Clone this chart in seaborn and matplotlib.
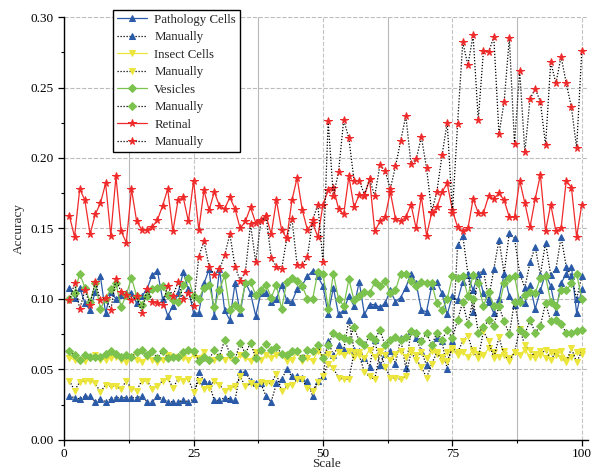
import matplotlib
matplotlib.use("Agg")
import seaborn as sns
import matplotlib.pyplot as plt
from matplotlib.ticker import MultipleLocator

scale = list(range(1, 101))

pathology = [
    0.108, 0.101, 0.108, 0.097, 0.092, 0.105, 0.116, 0.090, 0.105, 0.100,
    0.103, 0.104, 0.104, 0.097, 0.102, 0.107, 0.117, 0.120, 0.100, 0.088,
    0.095, 0.104, 0.119, 0.107, 0.090,
    0.090, 0.111, 0.121, 0.088, 0.121, 0.092, 0.085, 0.111, 0.090, 0.112,
    0.104, 0.088, 0.104, 0.104, 0.098, 0.100, 0.110, 0.099, 0.098, 0.107,
    0.110, 0.116, 0.120, 0.116,
    0.109, 0.089, 0.108, 0.089, 0.092, 0.102, 0.095, 0.112, 0.089, 0.096,
    0.096, 0.094, 0.097, 0.106, 0.098, 0.101, 0.108, 0.118, 0.111, 0.092,
    0.091, 0.109, 0.112, 0.104,
    0.089, 0.102, 0.099, 0.112, 0.117, 0.106, 0.118, 0.104, 0.098, 0.090,
    0.100, 0.118, 0.102, 0.096, 0.100, 0.097, 0.110, 0.093, 0.106, 0.118,
    0.109, 0.091, 0.111, 0.118, 0.123, 0.090, 0.107,
]
pathology_manual = [
    0.031, 0.030, 0.029, 0.031, 0.031, 0.027, 0.029, 0.027, 0.029, 0.030,
    0.030, 0.030, 0.030, 0.030, 0.031, 0.027, 0.027, 0.031, 0.029, 0.027,
    0.027, 0.027, 0.028, 0.027, 0.029,
    0.048, 0.042, 0.040, 0.028, 0.028, 0.030, 0.029, 0.028, 0.048, 0.048,
    0.042, 0.040, 0.040, 0.031, 0.027, 0.040, 0.043, 0.050, 0.045, 0.045,
    0.044, 0.042, 0.031, 0.042,
    0.045, 0.070, 0.060, 0.067, 0.064, 0.085, 0.064, 0.063, 0.058, 0.052,
    0.071, 0.053, 0.061, 0.063, 0.054, 0.072, 0.051, 0.077, 0.072, 0.063,
    0.053, 0.066, 0.072, 0.070, 0.050, 0.070,
    0.138, 0.145, 0.118, 0.091, 0.118, 0.120, 0.100, 0.121, 0.142, 0.118,
    0.147, 0.143, 0.118, 0.108, 0.126, 0.137, 0.117, 0.140, 0.117, 0.121,
    0.144, 0.123, 0.116, 0.100, 0.116,
]
insect = [
    0.058, 0.057, 0.057, 0.056, 0.058, 0.060, 0.057, 0.057, 0.058, 0.059,
    0.057, 0.055, 0.059, 0.057, 0.055, 0.059, 0.057, 0.055, 0.057, 0.060,
    0.059, 0.059, 0.058, 0.057, 0.060,
    0.058, 0.062, 0.056, 0.057, 0.059, 0.057, 0.059, 0.057, 0.060, 0.058,
    0.056, 0.062, 0.057, 0.060, 0.058, 0.060, 0.060, 0.056, 0.057, 0.062,
    0.056, 0.058, 0.056, 0.063, 0.059,
    0.061, 0.058, 0.062, 0.060, 0.063, 0.059, 0.062, 0.058, 0.064, 0.059,
    0.063, 0.060, 0.057, 0.061, 0.063, 0.059, 0.064, 0.060, 0.062, 0.058,
    0.063, 0.061, 0.059, 0.062, 0.064,
    0.060, 0.062, 0.059, 0.064, 0.061, 0.060, 0.065, 0.062, 0.059, 0.063,
    0.058, 0.062, 0.060, 0.064, 0.059, 0.061, 0.063, 0.058, 0.062, 0.060,
    0.063, 0.057, 0.059, 0.062, 0.061,
]
insect_manual = [
    0.042, 0.035, 0.041, 0.042, 0.042, 0.040, 0.034, 0.039, 0.038, 0.038,
    0.036, 0.042, 0.036, 0.035, 0.042, 0.042, 0.036, 0.038, 0.042, 0.044,
    0.037, 0.043, 0.042, 0.043, 0.034,
    0.042, 0.036, 0.037, 0.042, 0.039, 0.035, 0.037, 0.038, 0.045, 0.038,
    0.040, 0.038, 0.041, 0.040, 0.040, 0.047, 0.035, 0.038, 0.039, 0.043,
    0.043, 0.037, 0.035, 0.041, 0.045,
    0.054, 0.051, 0.044, 0.043, 0.043, 0.062, 0.060, 0.048, 0.045, 0.043,
    0.062, 0.052, 0.044, 0.044, 0.043, 0.045, 0.062, 0.057, 0.052, 0.044,
    0.054, 0.062, 0.056, 0.056, 0.065,
    0.062, 0.070, 0.074, 0.062, 0.058, 0.077, 0.070, 0.058, 0.073, 0.060,
    0.056, 0.062, 0.079, 0.067, 0.064, 0.058, 0.060, 0.064, 0.057, 0.062,
    0.058, 0.055, 0.065, 0.055, 0.063,
]
vesicles = [
    0.100, 0.104, 0.118, 0.108, 0.098, 0.111, 0.093, 0.100, 0.107, 0.111,
    0.094, 0.103, 0.115, 0.102, 0.096, 0.102, 0.107, 0.108, 0.109, 0.103,
    0.099, 0.098, 0.110, 0.115, 0.102,
    0.100, 0.108, 0.110, 0.094, 0.106, 0.117, 0.092, 0.096, 0.093, 0.111,
    0.112, 0.103, 0.106, 0.110, 0.101, 0.110, 0.093, 0.112, 0.115, 0.113,
    0.109, 0.100, 0.100,
    0.119, 0.118, 0.093, 0.118, 0.100, 0.095, 0.114, 0.099, 0.102, 0.105,
    0.104, 0.112, 0.109, 0.113, 0.104, 0.106, 0.118, 0.118, 0.113, 0.109,
    0.112, 0.111, 0.111, 0.097, 0.092,
    0.100, 0.116, 0.115, 0.116, 0.102, 0.117, 0.111, 0.095, 0.105, 0.095,
    0.095, 0.111, 0.115, 0.116, 0.098, 0.103, 0.105, 0.104, 0.115, 0.116,
    0.098, 0.095, 0.106, 0.106, 0.111, 0.118, 0.100,
]
vesicles_manual = [
    0.063, 0.060, 0.057, 0.060, 0.059, 0.059, 0.059, 0.061, 0.063, 0.061,
    0.059, 0.060, 0.059, 0.062, 0.064, 0.060, 0.063, 0.058, 0.063, 0.058,
    0.059, 0.059, 0.062, 0.064, 0.063,
    0.056, 0.059, 0.057, 0.064, 0.059, 0.071, 0.061, 0.057, 0.069, 0.061,
    0.069, 0.058, 0.064, 0.068, 0.064, 0.066, 0.061, 0.060, 0.063, 0.063,
    0.058, 0.064, 0.063, 0.067, 0.058,
    0.067, 0.076, 0.074, 0.072, 0.071, 0.080, 0.070, 0.067, 0.074, 0.071,
    0.078, 0.067, 0.071, 0.073, 0.071, 0.073, 0.077, 0.076, 0.070, 0.076,
    0.067, 0.076, 0.071, 0.078, 0.072,
    0.085, 0.098, 0.082, 0.100, 0.076, 0.080, 0.085, 0.081, 0.095, 0.084,
    0.075, 0.098, 0.078, 0.075, 0.085, 0.076, 0.081, 0.097, 0.084, 0.085,
    0.082, 0.076, 0.076, 0.077, 0.078,
]
retinal = [
    0.159, 0.144, 0.178, 0.170, 0.146, 0.160, 0.168, 0.182, 0.145, 0.187,
    0.148, 0.140, 0.178, 0.155, 0.149, 0.149, 0.151, 0.156, 0.166, 0.178,
    0.148, 0.170, 0.172, 0.155, 0.184,
    0.149, 0.177, 0.163, 0.176, 0.166, 0.164, 0.172, 0.164, 0.150, 0.155,
    0.165, 0.154, 0.156, 0.159, 0.146, 0.170, 0.149, 0.143, 0.170, 0.186,
    0.163, 0.149, 0.154,
    0.144, 0.167, 0.177, 0.179, 0.164, 0.160, 0.187, 0.165, 0.174, 0.173,
    0.185, 0.148, 0.155, 0.158, 0.176, 0.157, 0.155, 0.158, 0.167, 0.150,
    0.173, 0.145, 0.161, 0.165, 0.176, 0.182,
    0.163, 0.151, 0.148, 0.150, 0.171, 0.161, 0.161, 0.173, 0.171, 0.175,
    0.170, 0.158, 0.158, 0.184, 0.168, 0.151, 0.171, 0.188, 0.148, 0.167,
    0.148, 0.150, 0.184, 0.179, 0.144, 0.167,
]
retinal_manual = [
    0.099, 0.111, 0.093, 0.106, 0.096, 0.112, 0.099, 0.101, 0.092, 0.114,
    0.105, 0.103, 0.099, 0.102, 0.090, 0.107, 0.098, 0.097, 0.096, 0.109,
    0.102, 0.112, 0.100, 0.104, 0.095,
    0.130, 0.141, 0.123, 0.117, 0.121, 0.131, 0.146, 0.123, 0.113, 0.119,
    0.153, 0.126, 0.155, 0.159, 0.129, 0.123, 0.121, 0.143, 0.157, 0.124,
    0.124, 0.130, 0.156,
    0.167, 0.126, 0.226, 0.173, 0.190, 0.227, 0.214, 0.184, 0.184, 0.174,
    0.185, 0.173, 0.195, 0.191, 0.178, 0.194, 0.212, 0.230, 0.196, 0.199,
    0.215, 0.193, 0.162, 0.176, 0.202, 0.225,
    0.161, 0.224, 0.282, 0.266, 0.287, 0.227, 0.276, 0.275, 0.286, 0.217,
    0.240, 0.285, 0.210, 0.262, 0.204, 0.242, 0.249, 0.240, 0.209, 0.268,
    0.253, 0.272, 0.253, 0.236, 0.207, 0.276,
]

BLUE = "#2b5ba8"
YELLOW = "#ece63c"
GREEN = "#7cc24e"
RED = "#f02a2a"

series = [
    ("Pathology Cells", pathology, BLUE, "^", 4.2, False),
    ("Manually", pathology_manual, BLUE, "^", 4.2, True),
    ("Insect Cells", insect, YELLOW, "v", 4.2, False),
    ("Manually", insect_manual, YELLOW, "v", 4.2, True),
    ("Vesicles", vesicles, GREEN, "D", 3.6, False),
    ("Manually", vesicles_manual, GREEN, "D", 3.6, True),
    ("Retinal", retinal, RED, "*", 5.5, False),
    ("Manually", retinal_manual, RED, "*", 5.5, True),
]

sns.set_style("ticks")
plt.rcParams["font.family"] = ["Liberation Serif", "DejaVu Serif"]
plt.rcParams["font.size"] = 10

fig = plt.figure(figsize=(6, 4.74), dpi=100)
ax = fig.add_axes([0.107, 0.072, 0.873, 0.892])

for label, vals, color, marker, ms, dotted in series:
    sns.lineplot(
        x=scale, y=vals, ax=ax,
        color="black" if dotted else color,
        linestyle=(0, (1, 1.4)) if dotted else "-",
        linewidth=0.9,
        marker=marker, markersize=ms,
        markerfacecolor=color, markeredgecolor=color,
        label=label,
    )

ax.set_xlim(0, 101.2)
ax.set_ylim(0, 0.30)
ax.xaxis.set_major_locator(MultipleLocator(25))
ax.xaxis.set_minor_locator(MultipleLocator(12.5))
ax.yaxis.set_major_locator(MultipleLocator(0.05))
ax.yaxis.set_minor_locator(MultipleLocator(0.025))
ax.yaxis.set_major_formatter(plt.FormatStrFormatter("%.2f"))

ax.grid(which="major", axis="y", color="#bbbbbb", linestyle="--", linewidth=0.8)
ax.grid(which="major", axis="x", color="#c4c4c4", linestyle="--", linewidth=0.8)
ax.grid(which="minor", axis="x", color="#b8b8b8", linestyle="-", linewidth=0.8)
ax.set_axisbelow(True)

for side in ["top", "right"]:
    ax.spines[side].set_visible(False)
for side in ["left", "bottom"]:
    ax.spines[side].set_color("black")
    ax.spines[side].set_linewidth(1.0)
ax.tick_params(which="major", direction="out", length=4, width=0.9, colors="black", labelsize=9.5)
ax.tick_params(which="minor", direction="out", length=2.5, width=0.8, colors="black")
ax.tick_params(axis="x", which="major", pad=1.5)

ax.set_xlabel("Scale", fontsize=9.5, labelpad=-1)
ax.set_ylabel("Accuracy", fontsize=9.5, labelpad=4)

leg = ax.legend(
    loc="upper left", bbox_to_anchor=(113 / 600, 1 - 10 / 474),
    bbox_transform=fig.transFigure, frameon=True, fancybox=False,
    edgecolor="black", framealpha=1, fontsize=9.3, handlelength=2.3,
    labelspacing=0.42, borderpad=0.3, handletextpad=0.6, numpoints=1,
    borderaxespad=0,
)
leg.get_frame().set_linewidth(1.0)

fig.savefig("out.png", dpi=100)
